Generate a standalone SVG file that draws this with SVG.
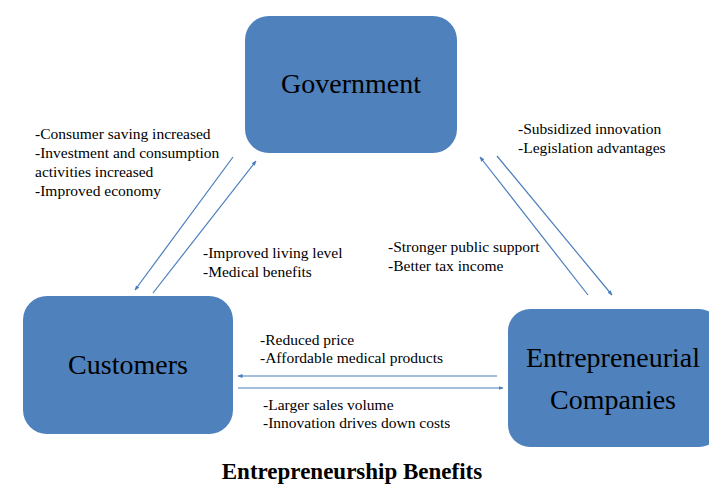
<svg xmlns="http://www.w3.org/2000/svg" width="709" height="485" viewBox="0 0 709 485">
  <defs>
    <marker id="arrow" viewBox="0 0 10 10" refX="9" refY="5" markerWidth="5" markerHeight="5" orient="auto" markerUnits="userSpaceOnUse">
      <path d="M0,1 L10,5 L0,9 Z" fill="#4a7ebb"/>
    </marker>
    <style>
      text { font-family: 'Liberation Serif', 'DejaVu Serif', serif; fill: #000; }
      .node { fill: #4f81bd; }
      .label { font-size: 28px; text-anchor: middle; }
      .note { font-size: 15.5px; }
      .title { font-size: 23px; font-weight: bold; text-anchor: middle; }
      .link { stroke: #4a7ebb; stroke-width: 1.2; fill: none; marker-end: url(#arrow); }
    </style>
  </defs>
  <rect width="709" height="485" fill="#ffffff"/>

  <g id="government">
    <rect class="node" x="245" y="16" width="212" height="137" rx="24" ry="24"/>
    <text class="label" x="351" y="93">Government</text>
  </g>

  <g id="customers">
    <rect class="node" x="23" y="296" width="210" height="138" rx="24" ry="24"/>
    <text class="label" x="128" y="374">Customers</text>
  </g>

  <g id="companies">
    <rect class="node" x="508" y="309" width="213" height="138" rx="22" ry="22"/>
    <text class="label" x="613" y="367">Entrepreneurial</text>
    <text class="label" x="613" y="409">Companies</text>
  </g>

  <g id="connectors">
    <line class="link" x1="233" y1="157" x2="135" y2="290"/>
    <line class="link" x1="153" y1="293" x2="256" y2="161"/>
    <line class="link" x1="588" y1="295" x2="480" y2="157"/>
    <line class="link" x1="497" y1="156" x2="612" y2="295"/>
    <line class="link" x1="497" y1="376" x2="238" y2="376"/>
    <line class="link" x1="238" y1="388" x2="503" y2="388"/>
  </g>

  <g id="notes">
    <text class="note" x="35" y="139">-Consumer saving increased</text>
    <text class="note" x="35" y="158">-Investment and consumption</text>
    <text class="note" x="35" y="177">activities increased</text>
    <text class="note" x="35" y="196">-Improved economy</text>

    <text class="note" x="203" y="258">-Improved living level</text>
    <text class="note" x="203" y="277">-Medical benefits</text>

    <text class="note" x="518" y="134">-Subsidized innovation</text>
    <text class="note" x="518" y="153">-Legislation advantages</text>

    <text class="note" x="388" y="252">-Stronger public support</text>
    <text class="note" x="388" y="271">-Better tax income</text>

    <text class="note" x="260" y="345">-Reduced price</text>
    <text class="note" x="260" y="363">-Affordable medical products</text>

    <text class="note" x="263" y="410">-Larger sales volume</text>
    <text class="note" x="263" y="428">-Innovation drives down costs</text>
  </g>

  <text class="title" x="352" y="479">Entrepreneurship Benefits</text>
</svg>
